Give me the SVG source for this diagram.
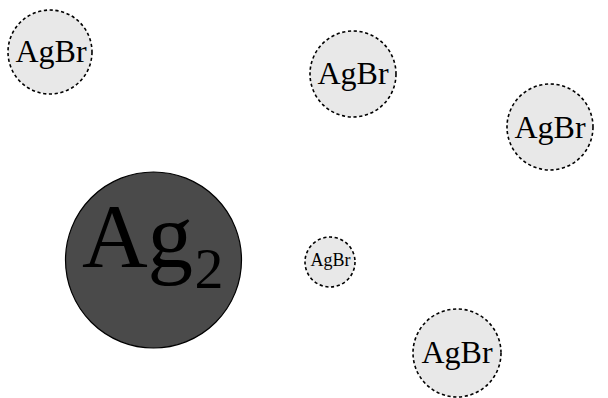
<svg xmlns="http://www.w3.org/2000/svg" width="608" height="398" viewBox="0 0 608 398">
<style>
.agbr{fill:#e8e8e8;stroke:#000;stroke-width:1.6;stroke-dasharray:3.2,2.6}
.t{font-family:"Liberation Serif","DejaVu Serif",serif;text-anchor:middle;fill:#000}
.big{font-size:32px}
</style>
<rect width="608" height="398" fill="#fff"/>
<g id="agbr1"><circle class="agbr" cx="50" cy="52" r="42"/><text class="t big" x="51" y="62">AgBr</text></g>
<g id="agbr2"><circle class="agbr" cx="353" cy="74" r="43"/><text class="t big" x="353" y="84">AgBr</text></g>
<g id="agbr3"><circle class="agbr" cx="550" cy="127" r="43"/><text class="t big" x="550" y="138">AgBr</text></g>
<g id="ag2"><circle cx="153.5" cy="260" r="88" fill="#4a4a4a" stroke="#000" stroke-width="1.2"/><text class="t" x="137.5" y="267" font-size="91">Ag</text><text class="t" x="209" y="288" font-size="58">2</text></g>
<g id="agbr4"><circle class="agbr" cx="330" cy="262" r="25"/><text class="t" x="330.5" y="266" font-size="18">AgBr</text></g>
<g id="agbr5"><circle class="agbr" cx="457" cy="353" r="44"/><text class="t big" x="457" y="363">AgBr</text></g>
<g id="connectors"></g>
</svg>
